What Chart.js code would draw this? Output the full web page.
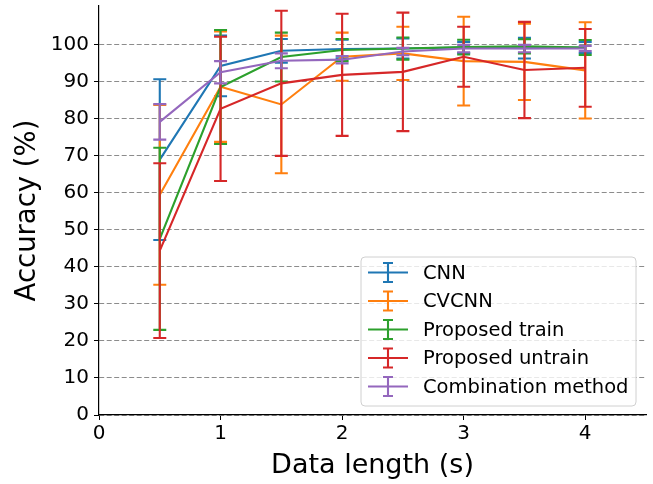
<!DOCTYPE html>
<html>
<head>
<meta charset="utf-8">
<script src="https://cdn.jsdelivr.net/npm/chart.js@4.4.1/dist/chart.umd.min.js"></script>
<style>
  body { margin: 0; background: #fff; }
  canvas { display: block; }
</style>
</head>
<body>
<canvas id="chart" width="653" height="484"></canvas>
<script>
// data
const dataLength = [0.5, 1, 1.5, 2, 2.5, 3, 3.5, 4];
const seriesNames = ['CNN', 'CVCNN', 'Proposed train', 'Proposed untrain', 'Combination method'];
const seriesColors = ['#1f77b4', '#ff7f0e', '#2ca02c', '#d62728', '#9467bd'];

const cnnMean = [69.0, 94.3, 98.4, 98.9, 99.0, 99.3, 99.1, 99.3];
const cnnErr = [21.7, 8.2, 3.2, 2.5, 2.7, 1.5, 2.8, 1.5];
const cvcnnMean = [59.5, 88.7, 83.9, 96.8, 97.7, 95.6, 95.4, 93.1];
const cvcnnErr = [24.3, 14.9, 18.6, 6.5, 7.2, 12.0, 10.3, 13.0];
const trainMean = [47.6, 88.6, 96.7, 98.6, 99.0, 99.4, 99.6, 99.3];
const trainErr = [24.6, 15.4, 6.6, 3.0, 3.0, 2.0, 1.9, 2.0];
const untrainMean = [44.4, 82.7, 89.6, 91.9, 92.7, 96.8, 93.2, 93.8];
const untrainErr = [23.6, 19.5, 19.6, 16.5, 16.0, 8.1, 13.0, 10.5];
const comboMean = [79.2, 92.6, 95.7, 96.0, 98.2, 99.0, 99.0, 99.0];
const comboErr = [4.8, 3.0, 2.0, 1.0, 1.0, 1.0, 1.0, 0.7];

const xTicks = [0, 1, 2, 3, 4];
const yTicks = [0, 10, 20, 30, 40, 50, 60, 70, 80, 90, 100];

const means = [cnnMean, cvcnnMean, trainMean, untrainMean, comboMean];
const errors = [cnnErr, cvcnnErr, trainErr, untrainErr, comboErr];

const FONT = "'DejaVu Sans', sans-serif";

// error bars drawn right after each line so later series sit on top
const errorBars = {
  id: 'errorBars',
  afterDatasetDraw(chart, args) {
    const i = args.index;
    const ctx = chart.ctx;
    const xs = chart.scales.x, ys = chart.scales.y;
    const cap = 6.5;
    ctx.save();
    ctx.strokeStyle = seriesColors[i];
    ctx.lineWidth = 2.1;
    dataLength.forEach((x, j) => {
      const px = xs.getPixelForValue(x);
      const top = ys.getPixelForValue(means[i][j] + errors[i][j]);
      const bot = ys.getPixelForValue(means[i][j] - errors[i][j]);
      ctx.beginPath();
      ctx.moveTo(px, top); ctx.lineTo(px, bot);
      ctx.moveTo(px - cap, top); ctx.lineTo(px + cap, top);
      ctx.moveTo(px - cap, bot); ctx.lineTo(px + cap, bot);
      ctx.stroke();
    });
    ctx.restore();
  }
};

// matplotlib style legend box in the lower right of the plot
const boxLegend = {
  id: 'boxLegend',
  afterDraw(chart) {
    const ctx = chart.ctx;
    const area = chart.chartArea;
    const w = 275, h = 149, rowH = 28.5;
    const left = area.right - 10 - w;
    const top = area.bottom - 9 - h;
    ctx.save();
    ctx.beginPath();
    ctx.roundRect(left, top, w, h, 4);
    ctx.fillStyle = 'rgba(255,255,255,0.8)';
    ctx.fill();
    ctx.strokeStyle = '#d0d0d0';
    ctx.lineWidth = 1;
    ctx.stroke();
    ctx.font = '19.5px ' + FONT;
    ctx.textBaseline = 'middle';
    seriesNames.forEach((name, i) => {
      const cy = top + 15.5 + i * rowH;
      const x0 = left + 7, x1 = left + 47, cx = (x0 + x1) / 2;
      ctx.strokeStyle = seriesColors[i];
      ctx.lineWidth = 2.1;
      ctx.beginPath();
      ctx.moveTo(x0, cy); ctx.lineTo(x1, cy);
      ctx.moveTo(cx, cy - 9.5); ctx.lineTo(cx, cy + 9.5);
      ctx.moveTo(cx - 5, cy - 9.5); ctx.lineTo(cx + 5, cy - 9.5);
      ctx.moveTo(cx - 5, cy + 9.5); ctx.lineTo(cx + 5, cy + 9.5);
      ctx.stroke();
      ctx.fillStyle = '#000';
      ctx.fillText(name, left + 62, cy + 1);
    });
    ctx.restore();
  }
};

const datasets = seriesNames.map((name, i) => ({
  label: name,
  data: dataLength.map((x, j) => ({ x: x, y: means[i][j] })),
  borderColor: seriesColors[i],
  backgroundColor: seriesColors[i],
  borderWidth: 2.1,
  pointRadius: 0,
  tension: 0,
  fill: false,
  order: seriesNames.length - i
}));

new Chart(document.getElementById('chart'), {
  type: 'line',
  data: { datasets: datasets },
  options: {
    responsive: false,
    animation: false,
    layout: { padding: { top: 6, right: 7, left: 0, bottom: 0 } },
    plugins: {
      legend: { display: false },
      tooltip: { enabled: false }
    },
    scales: {
      x: {
        type: 'linear',
        min: 0,
        max: 4.5,
        afterBuildTicks: axis => { axis.ticks = xTicks.map(v => ({ value: v })); },
        afterFit: axis => {
          axis.height = 69;
          axis.paddingLeft = 0;
          axis.paddingRight = 0;
        },
        grid: {
          drawOnChartArea: false,
          drawTicks: true,
          tickLength: 5,
          tickColor: '#000',
          tickWidth: 1
        },
        border: { display: true, color: '#000', width: 1.2 },
        ticks: {
          color: '#000',
          padding: 2,
          maxRotation: 0,
          font: { family: FONT, size: 20 }
        },
        title: {
          display: true,
          text: 'Data length (s)',
          color: '#000',
          font: { family: FONT, size: 27 },
          padding: { top: 0, bottom: 2 }
        }
      },
      y: {
        type: 'linear',
        min: 0,
        max: 110.5,
        afterBuildTicks: axis => { axis.ticks = yTicks.map(v => ({ value: v })); },
        afterFit: axis => {
          axis.width = 99;
          axis.paddingTop = 0;
          axis.paddingBottom = 0;
        },
        grid: {
          color: '#8c8c8c',
          lineWidth: 1,
          drawTicks: true,
          tickLength: 5,
          tickColor: '#000',
          tickWidth: 1,
          tickBorderDash: []
        },
        border: { display: true, color: '#000', width: 1.2, dash: [5, 2.5] },
        ticks: {
          color: '#000',
          padding: 5,
          font: { family: FONT, size: 20 }
        },
        title: {
          display: true,
          text: 'Accuracy (%)',
          color: '#000',
          font: { family: FONT, size: 27.5 },
          padding: { top: 11, bottom: 0 }
        }
      }
    }
  },
  plugins: [errorBars, boxLegend]
});
</script>
</body>
</html>
